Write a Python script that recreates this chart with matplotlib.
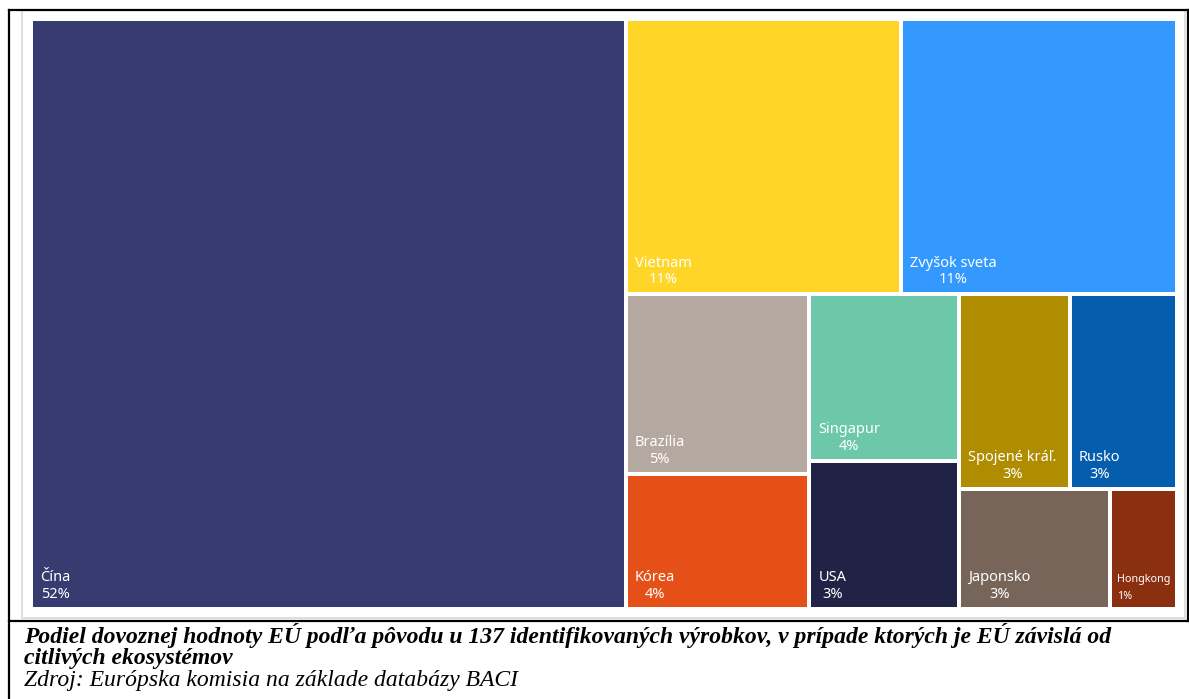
"""
Treemap: podiel dovoznej hodnoty EU podla povodu (137 vyrobkov).
"""
import matplotlib
matplotlib.use("Agg")
import matplotlib.pyplot as plt
from matplotlib.patches import Rectangle
from matplotlib.lines import Line2D

# --- Data --------------------------------------------------------------------
countries = ["Čína", "Vietnam", "Zvyšok sveta", "Brazília", "Kórea",
             "Singapur", "USA", "Spojené kráľ.", "Rusko", "Japonsko",
             "Hongkong"]
shares = [52.2, 11.3, 11.3, 4.9, 3.7, 3.7, 3.3, 3.2, 3.1, 2.7, 1.2]
pct_labels = ["52%", "11%", "11%", "5%", "4%", "4%", "3%", "3%", "3%",
              "3%", "1%"]
colors = ["#363b70", "#ffd628", "#3399ff", "#b5a8a1", "#e55019",
          "#6cc8a8", "#202346", "#b08c00", "#055dae", "#77655a",
          "#8a3011"]

caption_1 = ("Podiel dovoznej hodnoty EÚ podľa pôvodu u 137 identifikovaných "
             "výrobkov, v prípade ktorých je EÚ závislá od")
caption_2 = "citlivých ekosystémov"
source = "Zdroj: Európska komisia na základe databázy BACI"

# --- Figure geometry (pixels) ------------------------------------------------
W_PX, H_PX = 1189, 699
FRAME = (31, 19, 1146, 590)      # x, y, w, h of the treemap area
GAP = 4                          # white gap between tiles
LABEL_FONT = ["Noto Sans", "DejaVu Sans"]
SERIF = ["Liberation Serif", "DejaVu Serif"]


def fx(px):
    return px / W_PX


def fy(py):
    return 1 - py / H_PX


# --- Squarified layout (Bruls et al.), same logic as the squarify package -----
def layout_row(sizes, x, y, dx, dy):
    h = sum(sizes) / dx
    rects, cx = [], x
    for s in sizes:
        rects.append((cx, y, s / h, h))
        cx += s / h
    return rects


def layout_col(sizes, x, y, dx, dy):
    w = sum(sizes) / dy
    rects, cy = [], y
    for s in sizes:
        rects.append((x, cy, w, s / w))
        cy += s / w
    return rects


def layout(sizes, x, y, dx, dy):
    return layout_col(sizes, x, y, dx, dy) if dx >= dy else layout_row(sizes, x, y, dx, dy)


def leftover(sizes, x, y, dx, dy):
    area = sum(sizes)
    if dx >= dy:
        w = area / dy
        return x + w, y, dx - w, dy
    h = area / dx
    return x, y + h, dx, dy - h


def worst(sizes, x, y, dx, dy):
    return max(max(w / h, h / w) for _, _, w, h in layout(sizes, x, y, dx, dy))


def squarify(sizes, x, y, dx, dy):
    if not sizes:
        return []
    if len(sizes) == 1:
        return layout(sizes, x, y, dx, dy)
    i = 1
    while i < len(sizes) and worst(sizes[:i], x, y, dx, dy) >= worst(sizes[:i + 1], x, y, dx, dy):
        i += 1
    lx, ly, ldx, ldy = leftover(sizes[:i], x, y, dx, dy)
    return layout(sizes[:i], x, y, dx, dy) + squarify(sizes[i:], lx, ly, ldx, ldy)


fig = plt.figure(figsize=(W_PX / 100, H_PX / 100), dpi=100)
fig.patch.set_facecolor("white")

fx0, fy0, fw, fh = FRAME
ax = fig.add_axes([fx(fx0), fy(fy0 + fh), fw / W_PX, fh / H_PX])
ax.set_xlim(0, fw)
ax.set_ylim(fh, 0)
ax.axis("off")

total = sum(shares)
norm = [v * fw * fh / total for v in shares]
rects = squarify(norm, 0, 0, fw, fh)

for (x, y, w, h), name, pct, col in zip(rects, countries, pct_labels, colors):
    g = GAP / 2
    ax.add_patch(Rectangle((x + g, y + g), w - GAP, h - GAP,
                           facecolor=col, edgecolor="none"))
    small = w < 90
    ax.text(x + g + (5 if small else 7), y + h - g - 5, f"{name}\n{pct}",
            ha="left", va="bottom", multialignment="left" if small else "center",
            color="white", fontsize=7.8 if small else 10.5, family=LABEL_FONT,
            linespacing=1.7 if small else 1.15)

# inner light frame and outer black border
fig.add_artist(Rectangle((fx(22), fy(618)), (1185 - 22) / W_PX, (618 - 10) / H_PX,
                         transform=fig.transFigure, facecolor="none",
                         edgecolor="#d9d9d9", linewidth=1.2))
for (xa, ya), (xb, yb) in [((9, 9.5), (1188, 9.5)), ((1188, 9.5), (1188, 620.5)),
                           ((9, 620.5), (1188, 620.5)), ((9, 9.5), (9, 699))]:
    fig.add_artist(Line2D([fx(xa), fx(xb)], [fy(ya), fy(yb)],
                          transform=fig.transFigure, color="black", linewidth=1.6))

# caption
fig.text(fx(24), fy(643), caption_1, ha="left", va="baseline", fontsize=17,
         fontweight="bold", fontstyle="italic", family=SERIF, color="black")
fig.text(fx(24), fy(664), caption_2, ha="left", va="baseline", fontsize=17,
         fontweight="bold", fontstyle="italic", family=SERIF, color="black")
fig.text(fx(24), fy(686), source, ha="left", va="baseline", fontsize=17,
         fontstyle="italic", family=SERIF, color="black")

fig.savefig("out.png", dpi=100)
